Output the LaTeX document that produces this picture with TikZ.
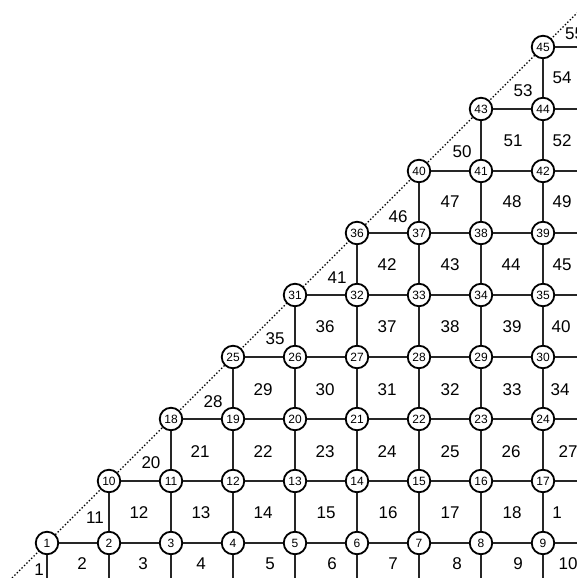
\documentclass[tikz,border=0pt]{standalone}
\usepackage{fontspec}
\setmainfont{Liberation Sans}
\begin{document}
\begin{tikzpicture}[x=1pt,y=-1pt,
  vtx/.style={circle,draw=black,line width=1.8pt,fill=white,minimum size=22.5pt,inner sep=0pt,
    font=\fontsize{12}{12}\selectfont},
  edge/.style={draw=black!85,line width=1.1pt},
  diag/.style={draw=black,line width=1.4pt,dotted},
  cell/.style={font=\fontsize{17}{18}\selectfont,inner sep=0pt}]
\useasboundingbox (0,0) rectangle (577,578);
\fill[white] (0,0) rectangle (577,578);
% dotted diagonal
\coordinate (dA) at (12,578);
\coordinate (dB) at (577,13);
\draw[diag] (dA) -- (dB);
% vertices
\foreach \r in {0,...,8}{
  \foreach \c in {\r,...,8}{
    \pgfmathtruncatemacro\n{1+9*\r-\r*(\r-1)/2+\c-\r}
    \node[vtx,alias=g\r-\c] (n\n) at ({47+62*\c},{543-62*\r}) {\raisebox{-3pt}{\n}};
  }
}
% edges
\foreach \r in {0,...,8}{
  \foreach \c in {\r,...,8}{
    \pgfmathtruncatemacro\cc{\c+1}
    \pgfmathtruncatemacro\rr{\r-1}
    \ifnum\c<8
      \draw[edge] (g\r-\c) -- (g\r-\cc);
    \else
      \coordinate (e\r) at (577,{543-62*\r});
      \draw[edge] (g\r-\c) -- (e\r);
    \fi
    \ifnum\r>0
      \draw[edge] (g\r-\c) -- (g\rr-\c);
    \else
      \coordinate (b\c) at ({47+62*\c},578);
      \draw[edge] (g\r-\c) -- (b\c);
    \fi
  }
}
% cell labels
\foreach \t/\x/\y [count=\k] in {
  1/39/570, 2/82/564, 3/143/564, 4/201/564, 5/270/564, 6/332/564, 7/393/564, 8/457/564, 9/518/564, 10/568/564,
  11/95/518, 12/139/513, 13/201/513, 14/263/513, 15/326/513, 16/388/513, 17/450/513, 18/512/513, 1/557/513,
  20/151/463, 21/200/452, 22/263/452, 23/325/452, 24/387/452, 25/450/452, 26/511/452, 27/568/452,
  28/213/402, 29/263/390, 30/325/390, 31/387/390, 32/450/390, 33/512/390, 34/560/390,
  35/275/339, 36/325/327, 37/387/327, 38/450/327, 39/512/327, 40/561/327,
  41/337/278, 42/387/265, 43/450/265, 44/511/265, 45/562/265,
  46/398/217, 47/450/202, 48/512/202, 49/562/202,
  50/462/152, 51/513/141, 52/562/141,
  53/523/91, 54/562/78}{
  \node[cell] (c\k) at (\x,\y) {\t};
}
\node[cell,anchor=west] (c55) at (565,34) {55};
\end{tikzpicture}
\end{document}
